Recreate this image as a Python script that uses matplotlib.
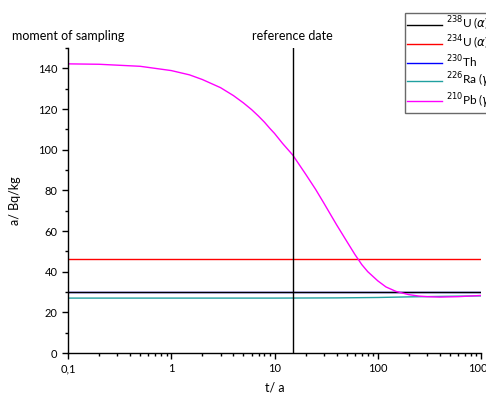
import numpy as np
import matplotlib
matplotlib.use("Agg")
import matplotlib.pyplot as plt
from matplotlib.ticker import FixedLocator, MultipleLocator, LogLocator, NullFormatter

plt.rcParams['font.family'] = ['Lato', 'DejaVu Sans']

# values
t_const = [0.1, 1000]
u238 = [29.8, 29.8]
u234 = [46.0, 46.0]
th230 = [30.1, 30.1]

t_ra = [0.1, 1, 10, 40, 100, 200, 500, 1000]
ra226 = [27.0, 27.0, 27.0, 27.1, 27.3, 27.6, 27.9, 28.1]

t_pb = [0.1, 0.2, 0.5, 1, 1.5, 2, 3, 4, 5, 6, 7, 8, 9, 10, 12, 15, 20, 25,
        30, 35, 40, 50, 60, 70, 80, 100, 120, 150, 200, 250, 300, 400, 600, 1000]
pb210 = [142.2, 142.0, 141.0, 138.9, 136.8, 134.5, 130.5, 126.6, 123.0, 119.7,
         116.5, 113.5, 110.5, 108.0, 103.0, 97.4, 88.0, 80.5, 73.8, 68.0, 63.0,
         55.0, 48.5, 43.5, 40.0, 35.5, 32.5, 30.3, 28.7, 28.0, 27.7, 27.5, 27.7, 28.3]

ref_date = 15
xticks = [0.1, 1, 10, 100, 1000]
xtick_labels = ["0,1", "1", "10", "100", "1000"]

fig = plt.figure(figsize=(4.86, 3.94), dpi=100)
ax = fig.add_axes([68/486, 41/394, 413/486, 305/394])

ax.plot(t_const, th230, color='blue', lw=1.0, label=r'$^{230}$Th')
ax.plot(t_const, u238, color='black', lw=1.0, label=r'$^{238}$U ($\alpha$)')
ax.plot(t_const, u234, color='red', lw=1.0, label=r'$^{234}$U ($\alpha$)')
ax.plot(t_ra, ra226, color='#20a0a0', lw=1.0, label=r'$^{226}$Ra ($\gamma$)')
ax.plot(t_pb, pb210, color='magenta', lw=1.0, label=r'$^{210}$Pb ($\gamma$)')
ax.axvline(ref_date, color='black', lw=1.0)

ax.set_xscale('log')
ax.set_xlim(0.1, 1000)
ax.set_ylim(0, 150)
ax.xaxis.set_major_locator(FixedLocator(xticks))
ax.set_xticklabels(xtick_labels)
ax.xaxis.set_minor_locator(LogLocator(base=10, subs=np.arange(2, 10)))
ax.xaxis.set_minor_formatter(NullFormatter())
ax.yaxis.set_major_locator(FixedLocator([0, 20, 40, 60, 80, 100, 120, 140]))
ax.yaxis.set_minor_locator(MultipleLocator(10))
ax.tick_params(which='major', length=4, width=1, labelsize=8, direction='out')
ax.tick_params(which='minor', length=2.5, width=1, direction='out')

for s in ['top', 'right']:
    ax.spines[s].set_visible(False)
for s in ['left', 'bottom']:
    ax.spines[s].set_linewidth(1.0)

ax.set_xlabel('t/ a', fontsize=9, labelpad=5)
ax.set_ylabel('a/ Bq/kg', fontsize=9, labelpad=12)

trans = ax.get_xaxis_transform()
ax.text(0.1, 1.02, 'moment of sampling', transform=trans, ha='center', va='bottom', fontsize=9)
ax.text(ref_date, 1.02, 'reference date', transform=trans, ha='center', va='bottom', fontsize=9)

h, l = ax.get_legend_handles_labels()
order = [1, 2, 0, 3, 4]
leg = fig.legend([h[i] for i in order], [l[i] for i in order],
                 loc='upper left', bbox_to_anchor=(405/486, 1 - 13/394),
                 fontsize=8.5, frameon=True, fancybox=False, edgecolor='#444444',
                 borderpad=0.2, labelspacing=0.08, handlelength=2.9,
                 handletextpad=0.35, borderaxespad=0)
leg.get_frame().set_linewidth(1.0)

fig.savefig('out.png', dpi=100)
